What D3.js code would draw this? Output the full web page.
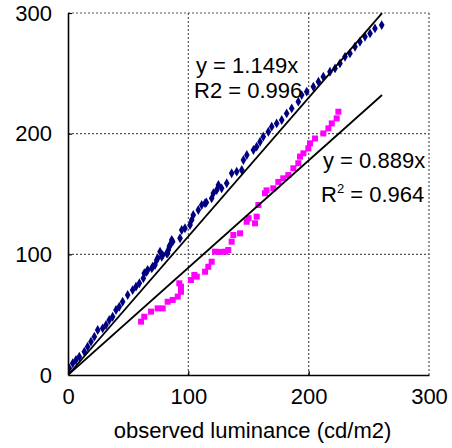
<!DOCTYPE html>
<html><head><meta charset="utf-8">
<script src="https://cdn.jsdelivr.net/npm/d3@7"></script>
<style>
html,body{margin:0;padding:0;background:#fff;}
svg{display:block;font-family:"Liberation Sans",Arial,sans-serif;}
</style></head>
<body>
<svg id="c" width="452" height="448"></svg>
<script>
const xTicks = [0, 100, 200, 300];
const yTicks = [0, 100, 200, 300];
const xTitle = "observed luminance (cd/m2)";

const blueX = [1.1,3.9,6.6,9.4,13.6,16.3,19.1,21.9,24.7,28.8,31.6,34.3,37.1,39.9,42.6,45.4,49.6,53.7,56.5,59.3,62.6,63.4,65.4,66.2,69.6,70.4,72.3,73.7,74.5,76.5,77.9,78.7,82,82.8,83.4,84.2,84.8,86.2,87,93.1,94.5,97.2,101.4,102.8,104.1,108.3,111.1,113.9,115,119.4,120.8,123.6,125,127.7,131.9,136,140.2,144.4,145.8,148.6,154.1,156.8,159.6,162.3,166.5,169.3,173.4,177.6,181.7,185.9,191.4,194.2,198.4,203.9,208.1,212.2,217.7,221.9,226,230.2,234.3,238.5,242.6,246.8,251,255.1,260.7];
const blueY = [5.5,9.7,12.4,15.2,19.3,23.5,27.6,31.8,37.3,38.7,41.4,45.6,48.3,53.9,56.6,60.7,66.3,70.4,73.2,76,80.1,84.3,85.6,87,88.4,89.8,91.2,95.3,96.7,102.2,98,99.4,100.8,100.8,103.6,106.3,107.7,111.9,110.5,113.3,120.2,121.6,124.3,128.5,132.6,136.7,140.9,142.3,143,146.4,150.6,153.3,157.5,154.7,158.9,167.2,168.5,169.9,178.2,182.3,186.5,189.2,193.3,197.5,201.6,205.8,208.5,211.3,216.8,220.9,226.5,232,234.8,238.9,243.1,247.2,251.3,254.1,258.2,263.7,266.5,272,276.2,280.3,283.1,287.2,290];

const pinkX = [60.7,63.4,69,74.5,78.7,82.8,87,91.2,93.9,93.9,92.5,102.2,105,107,113.9,116.6,119.4,122.2,126,130.5,133.2,136,137.4,143,148.5,150,155.4,156.8,158.2,163.7,165,170.6,174.8,178.9,183.1,187.3,191.4,192.8,195.6,199.7,201.1,205.3,212.2,216.4,219.2,223.3,224.7];
const pinkY = [44.2,48.3,52.5,55.2,55.2,60.7,62.2,65,69,73.2,76,78.7,82.9,81.5,85.6,89.7,93.9,102.2,102,102.2,103.6,110.5,116,117.4,127,130,125.7,131.2,140.9,150.6,153,154.7,160,163,165.7,171.3,175.5,181,183.7,187.8,192,196,200.2,204.4,208.5,212.7,218.2];

const blueSlope = 1.149, pinkSlope = 0.889;
const trendEndX = 261;

const svg = d3.select("#c");
const x = d3.scaleLinear().domain([0, 300]).range([68, 429]);
const y = d3.scaleLinear().domain([0, 300]).range([375, 13]);

// grid
const grid = svg.append("g");
grid.selectAll("line.gx").data(xTicks.filter(d => d > 0)).enter().append("line")
  .attr("x1", d => x(d)).attr("x2", d => x(d)).attr("y1", y(0)).attr("y2", y(300))
  .attr("stroke", "#555").attr("stroke-width", 1.2).attr("stroke-dasharray", "2,2");
grid.selectAll("line.gy").data(yTicks.filter(d => d > 0)).enter().append("line")
  .attr("y1", d => y(d)).attr("y2", d => y(d)).attr("x1", x(0)).attr("x2", x(300))
  .attr("stroke", "#555").attr("stroke-width", 1.2).attr("stroke-dasharray", "2,2");

svg.append("defs").append("clipPath").attr("id", "clip").append("rect")
  .attr("x", x(0)).attr("y", y(300) - 1).attr("width", x(300) - x(0)).attr("height", y(0) - y(300) + 1);

const plot = svg.append("g").attr("clip-path", "url(#clip)");

// markers
const diamond = d3.symbol().type(d3.symbolDiamond).size(28);
plot.selectAll("path.b").data(blueX.map((v, i) => [v, blueY[i]])).enter().append("path")
  .attr("d", diamond).attr("transform", d => `translate(${x(d[0])},${y(d[1])})`)
  .attr("fill", "#000080");
plot.selectAll("rect.p").data(pinkX.map((v, i) => [v, pinkY[i]])).enter().append("rect")
  .attr("x", d => x(d[0]) - 3).attr("y", d => y(d[1]) - 3).attr("width", 6).attr("height", 6)
  .attr("fill", "#ff00ff");

// trendlines
const line = d3.line().x(d => x(d[0])).y(d => y(d[1]));
plot.append("path").attr("d", line([[0, 0], [trendEndX, blueSlope * trendEndX]]))
  .attr("stroke", "#000").attr("stroke-width", 1.8).attr("fill", "none");
plot.append("path").attr("d", line([[0, 0], [trendEndX, pinkSlope * trendEndX]]))
  .attr("stroke", "#000").attr("stroke-width", 1.8).attr("fill", "none");

// axes
const xAxis = d3.axisBottom(x).tickValues(xTicks).tickSizeInner(-4).tickSizeOuter(0).tickPadding(13);
const yAxis = d3.axisLeft(y).tickValues(yTicks).tickSizeInner(-4).tickSizeOuter(0).tickPadding(16);
const gx = svg.append("g").attr("transform", `translate(0,${y(0)})`).call(xAxis);
const gy = svg.append("g").attr("transform", `translate(${x(0)},0)`).call(yAxis);
[gx, gy].forEach(g => {
  g.select(".domain").attr("stroke", "#000").attr("stroke-width", 1.6);
  g.selectAll(".tick line").attr("stroke", "#000").attr("stroke-width", 1.2);
  g.selectAll(".tick text").attr("font-size", 22).attr("fill", "#000")
    .attr("font-family", "Liberation Sans, Arial, sans-serif");
});
gx.selectAll(".tick line").filter(d => d === 0 || d === 300).remove();
gy.selectAll(".tick line").filter(d => d === 0).remove();

svg.append("text").attr("x", (x(0) + x(300)) / 2 + 4).attr("y", 438).attr("text-anchor", "middle")
  .attr("font-size", 22).text(xTitle);

// annotations
const ann = svg.append("g").attr("font-size", 22).attr("fill", "#000");
ann.append("text").attr("x", 196).attr("y", 73).text("y = " + blueSlope + "x");
ann.append("text").attr("x", 194).attr("y", 98).text("R2 = 0.996");
ann.append("text").attr("x", 323).attr("y", 168).text("y = " + pinkSlope + "x");
const r2 = ann.append("text").attr("x", 321).attr("y", 202);
r2.append("tspan").text("R");
r2.append("tspan").attr("font-size", 13).attr("dy", -9).text("2");
r2.append("tspan").attr("dy", 9).text(" = 0.964");
</script>
</body></html>
